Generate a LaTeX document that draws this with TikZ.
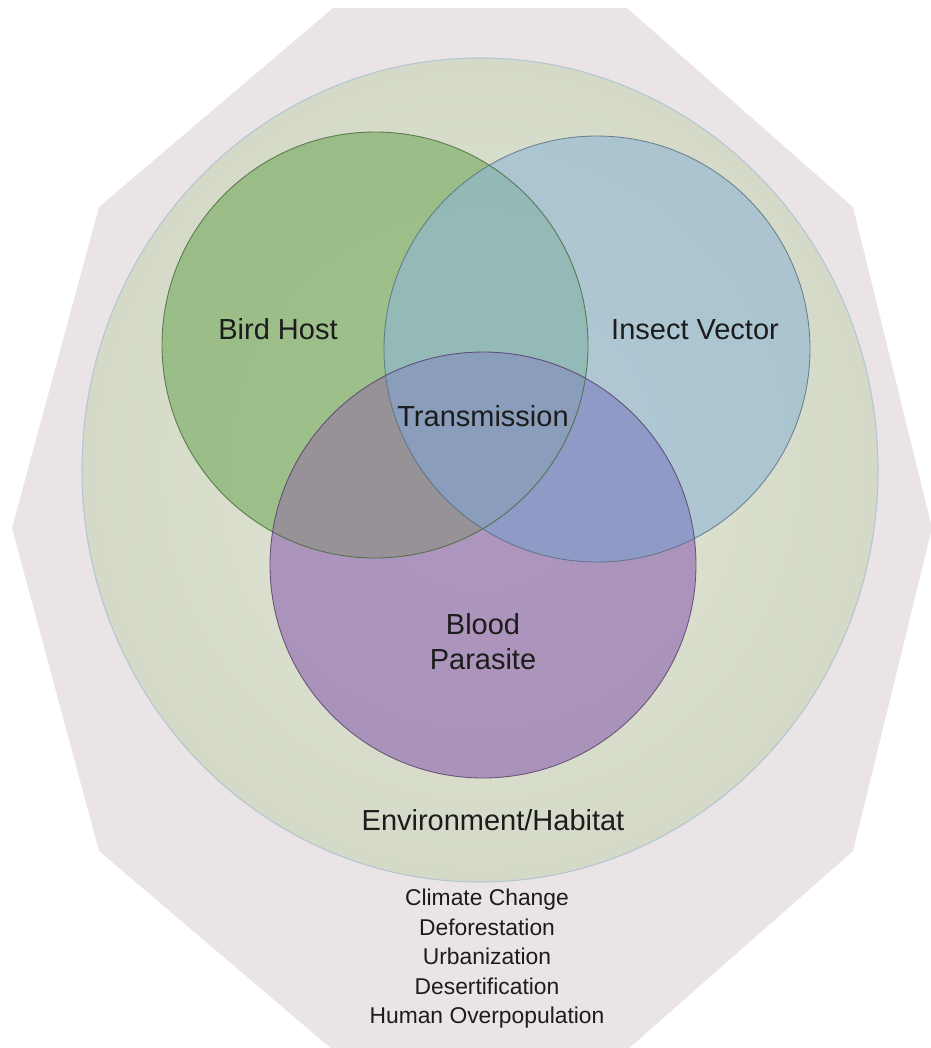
\documentclass[tikz,border=0pt]{standalone}
\usepackage{fontspec}
\setmainfont{Liberation Sans}
\usetikzlibrary{positioning}

\definecolor{octfill}{RGB}{234,228,231}
\definecolor{envin}{RGB}{227,230,215}
\definecolor{envout}{RGB}{212,218,199}
\definecolor{envedge}{RGB}{178,198,210}
\definecolor{birdc}{RGB}{115,170,92}
\definecolor{insectc}{RGB}{143,182,213}
\definecolor{parasc}{RGB}{140,98,175}
\definecolor{birdparas}{RGB}{150,146,152}
\definecolor{insectparas}{RGB}{143,155,198}
\definecolor{allthree}{RGB}{138,157,186}
\definecolor{txt}{RGB}{28,28,28}

\begin{document}
\begin{tikzpicture}[
        x=0.02cm, y=-0.02cm,
        every node/.style={font=\fontsize{16.5}{20}\selectfont, text=txt},
        venn/.style={fill opacity=0.6},
        rim/.style={line width=0.5pt, draw opacity=0.8},
        small/.style={font=\fontsize{13}{16.8}\selectfont}
    ]

    \useasboundingbox (0,0) rectangle (930,1048);

    % Draw outer octagon
    \fill[octfill] (333,8) -- (627,8) -- (853,207) -- (932,528) -- (853,851)
        -- (627,1050) -- (333,1050) -- (99,851) -- (12,528) -- (99,207) -- cycle;

    % Draw environment circle
    \shade[inner color=envin, outer color=envout, draw=envedge, line width=0.6pt]
        (480,470) ellipse [x radius=398, y radius=412];

    % Draw the three circles
    \fill[birdc, venn] (375,345) circle [radius=213];
    \fill[insectc, venn] (597,349) circle [radius=213];
    \fill[parasc, venn] (483,565) circle [radius=213];

    % Overlaps with the parasite circle
    \begin{scope}
        \clip (375,345) circle [radius=213];
        \fill[birdparas] (483,565) circle [radius=213];
    \end{scope}
    \begin{scope}
        \clip (597,349) circle [radius=213];
        \fill[insectparas] (483,565) circle [radius=213];
    \end{scope}
    \begin{scope}
        \clip (375,345) circle [radius=213];
        \clip (597,349) circle [radius=213];
        \fill[allthree] (483,565) circle [radius=213];
    \end{scope}

    % Outlines
    \draw[rim, birdc!60!black] (375,345) circle [radius=213];
    \draw[rim, insectc!60!black] (597,349) circle [radius=213];
    \draw[rim, parasc!60!black] (483,565) circle [radius=213];

    % Labels
    \node (bird) at (278,329) {Bird Host};
    \node (insect) at (695,330) {Insect Vector};
    \node (trans) at (483,416) {Transmission};
    \node[align=center] (paras) at (483,642) {Blood\\Parasite};
    \node (env) at (493,820) {Environment/Habitat};
    \node[small, align=center] (factors) at (487,959)
        {Climate Change\\Deforestation\\Urbanization\\Desertification\\Human Overpopulation};

\end{tikzpicture}
\end{document}
